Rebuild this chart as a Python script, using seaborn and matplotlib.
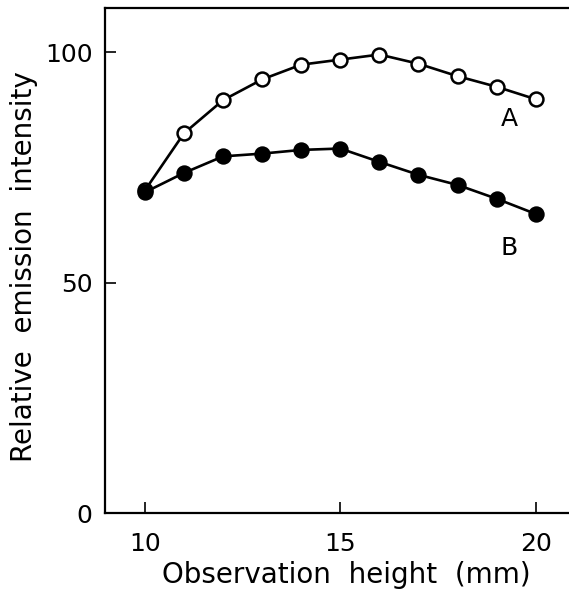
import numpy as np
import pandas as pd
import matplotlib
matplotlib.use("Agg")
import matplotlib.pyplot as plt
import seaborn as sns

# Observation height (mm) and relative emission intensity for the two curves
height = [10, 11, 12, 13, 14, 15, 16, 17, 18, 19, 20]
intensity_a = [70.0, 82.4, 89.6, 94.1, 97.3, 98.4, 99.5, 97.5, 94.8, 92.5, 89.8]
intensity_b = [69.6, 73.8, 77.4, 78.0, 78.8, 79.1, 76.2, 73.4, 71.2, 68.2, 64.9]
x_ticks = [10, 15, 20]
y_ticks = [0, 50, 100]

df = pd.DataFrame({
    "height": height * 2,
    "intensity": intensity_a + intensity_b,
    "curve": ["A"] * len(height) + ["B"] * len(height),
})

sns.set_theme(style="white")
plt.rcParams["font.family"] = ["DejaVu Sans"]
plt.rcParams["text.color"] = "black"
plt.rcParams["axes.labelcolor"] = "black"

fig = plt.figure(figsize=(5.69, 5.97), dpi=100)
ax = fig.add_axes([0.1845, 0.1407, 0.8155, 0.8459])

style = dict(color="black", linewidth=1.9, marker="o", markersize=10,
             markeredgecolor="black", markeredgewidth=1.8)
sns.lineplot(data=df[df.curve == "A"], x="height", y="intensity", ax=ax,
             markerfacecolor="white", **style)
sns.lineplot(data=df[df.curve == "B"], x="height", y="intensity", ax=ax,
             markerfacecolor="black", **style)

ax.text(19.33, 85.5, "A", fontsize=18, ha="center", va="center")
ax.text(19.33, 57.6, "B", fontsize=18, ha="center", va="center")

ax.set_xlim(8.98, 20.85)
ax.set_ylim(0, 109.6)
ax.set_xticks(x_ticks)
ax.set_yticks(y_ticks)
ax.tick_params(direction="in", length=8, width=1.2, labelsize=18,
               colors="black", bottom=True, left=True)
ax.tick_params(axis="x", pad=14)
ax.tick_params(axis="y", pad=9)
ax.set_xlabel("Observation  height  (mm)", fontsize=20, labelpad=0)
ax.xaxis.set_label_coords(0.52, -0.095)
ax.set_ylabel("Relative  emission  intensity", fontsize=20)
ax.yaxis.set_label_coords(-0.145, 0.487)

for side in ("left", "bottom", "top"):
    ax.spines[side].set_color("black")
    ax.spines[side].set_linewidth(1.6)
ax.spines["right"].set_visible(False)

fig.savefig("out.png", dpi=100, facecolor="white")
